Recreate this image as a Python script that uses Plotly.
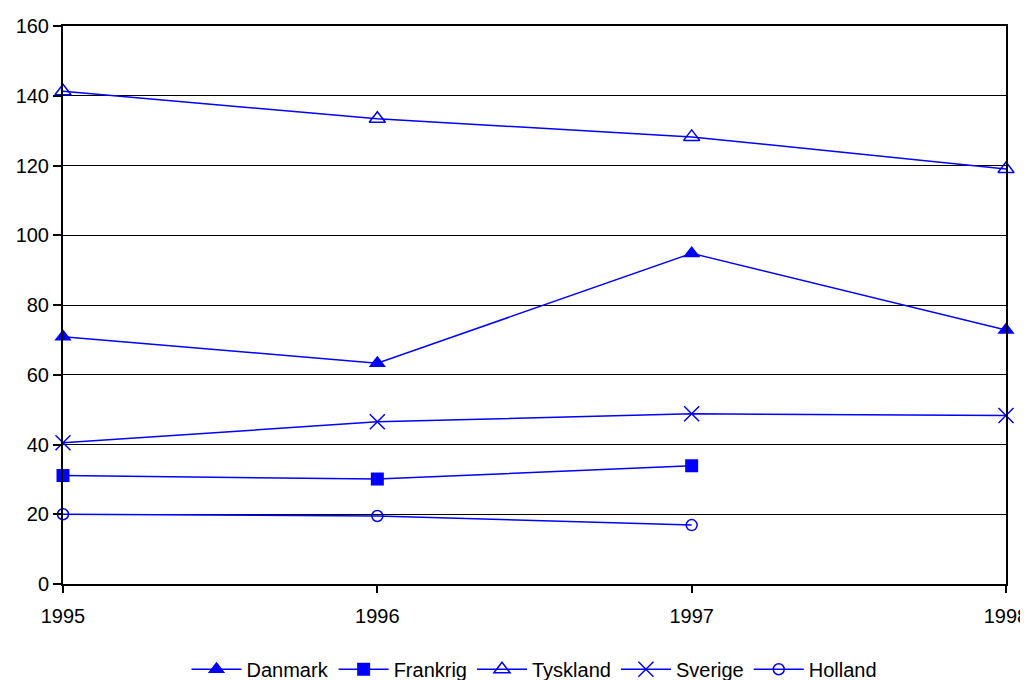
import plotly.graph_objects as go

years = [1995, 1996, 1997, 1998]
danmark = [70.9, 63.3, 94.8, 72.8]
frankrig = [31.1, 30.1, 33.9]
tyskland = [141.3, 133.4, 128.2, 119.0]
sverige = [40.5, 46.5, 48.8, 48.3]
holland = [20.0, 19.5, 16.9]

y_ticks = [0, 20, 40, 60, 80, 100, 120, 140, 160]

BLUE = "#0000FF"

series = [
    ("Danmark", years, danmark, dict(symbol="triangle-up", size=15, color=BLUE, line=dict(width=0))),
    ("Frankrig", years[:3], frankrig, dict(symbol="square", size=13, color=BLUE, line=dict(width=0))),
    ("Tyskland", years, tyskland, dict(symbol="triangle-up-open", size=14, color=BLUE, line=dict(width=1.5, color=BLUE))),
    ("Sverige", years, sverige, dict(symbol="x-thin-open", size=15, color=BLUE, line=dict(width=1.5, color=BLUE))),
    ("Holland", years[:3], holland, dict(symbol="circle-open", size=11, color=BLUE, line=dict(width=1.5, color=BLUE))),
]

fig = go.Figure()
for name, xs, ys, mk in series:
    fig.add_trace(go.Scatter(
        x=xs, y=ys, name=name, mode="lines+markers",
        line=dict(color=BLUE, width=1.5),
        marker=mk, cliponaxis=False,
    ))

# page body has an 8px default margin, so the figure is sized/offset to compensate
fig.update_layout(
    width=1020, height=672,
    margin=dict(l=55, r=22, t=18, b=96),
    paper_bgcolor="white", plot_bgcolor="white",
    font=dict(family="Liberation Sans, Arial, sans-serif", size=20, color="black"),
    showlegend=True,
    legend=dict(
        orientation="h", xref="paper", x=0.5, xanchor="center",
        yref="container", y=0.016, yanchor="middle",
        font=dict(size=20), tracegroupgap=0, itemwidth=50,
    ),
)
fig.update_xaxes(
    range=[1995, 1998], tickvals=years, ticktext=[str(y) for y in years],
    showgrid=False, zeroline=False, automargin=False,
    showline=True, linecolor="black", linewidth=2, mirror=True,
    ticks="outside", ticklen=7, tickwidth=2, tickcolor="black",
    ticklabelstandoff=6, ticklabeloverflow="allow",
)
fig.update_yaxes(
    range=[0, 160], tickvals=y_ticks,
    showgrid=True, gridcolor="black", gridwidth=1, zeroline=False, automargin=False,
    showline=True, linecolor="black", linewidth=2, mirror=True,
    ticks="outside", ticklen=8, tickwidth=2, tickcolor="black",
    ticklabeloverflow="allow",
)

fig.write_html("out.html")
